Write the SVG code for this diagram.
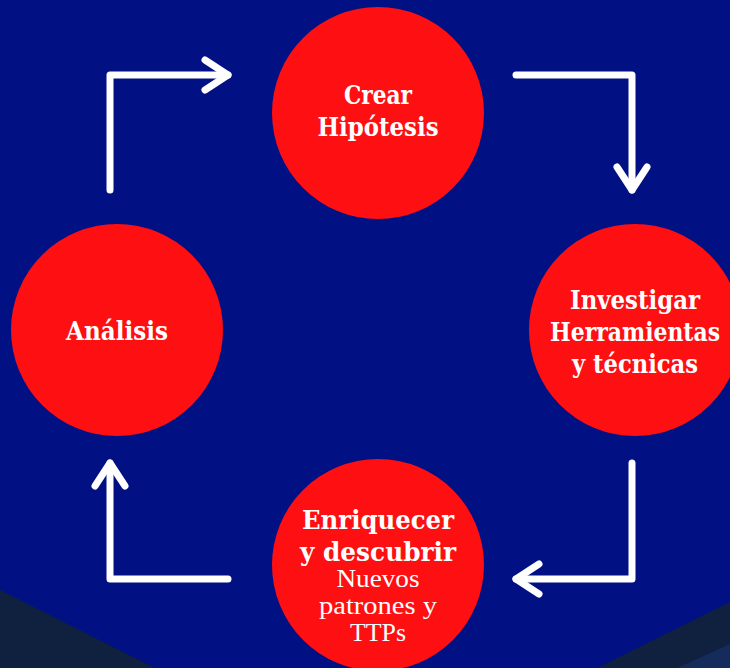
<svg xmlns="http://www.w3.org/2000/svg" width="730" height="668" viewBox="0 0 730 668">
<style>
.c{fill:#fe0f12}
.h{font-family:"DejaVu Serif","Liberation Serif",serif;font-weight:bold;font-size:26px;fill:#fff;text-anchor:middle}
.s{font-family:"Liberation Serif","DejaVu Serif",serif;font-weight:normal;font-size:25px;fill:#fff;text-anchor:middle}
.a{fill:none;stroke:#fff;stroke-width:7;stroke-linecap:round;stroke-linejoin:round}
</style>
<rect width="730" height="668" fill="#011083"/>
<polygon points="0,590 155,668 0,668" fill="#10203f"/>
<polygon points="597,668 730,602 730,668" fill="#10203f"/>
<polygon points="677,668 730,644 730,668" fill="#142b5c"/>
<g id="connectors">
<polyline class="a" points="110,190 110,75 228,75"/>
<polyline class="a" points="205,60 228,75 205,90"/>
<polyline class="a" points="516,75 632,75 632,190"/>
<polyline class="a" points="617,167 632,190 647,167"/>
<polyline class="a" points="632,463 632,579 516,579"/>
<polyline class="a" points="539,564 516,579 539,594"/>
<polyline class="a" points="228,579 110,579 110,463"/>
<polyline class="a" points="95,486 110,463 125,486"/>
</g>
<g id="crear">
<circle class="c" cx="378" cy="113" r="106"/>
<text class="h" x="378" y="104" textLength="68" lengthAdjust="spacingAndGlyphs">Crear</text>
<text class="h" x="378" y="136" textLength="121" lengthAdjust="spacingAndGlyphs">Hipótesis</text>
</g>
<g id="investigar">
<circle class="c" cx="635" cy="330" r="106"/>
<text class="h" x="635" y="309" textLength="130" lengthAdjust="spacingAndGlyphs">Investigar</text>
<text class="h" x="635" y="341" textLength="170" lengthAdjust="spacingAndGlyphs">Herramientas</text>
<text class="h" x="635" y="373" textLength="126" lengthAdjust="spacingAndGlyphs">y técnicas</text>
</g>
<g id="analisis">
<circle class="c" cx="117" cy="330" r="106"/>
<text class="h" x="117" y="340" textLength="102" lengthAdjust="spacingAndGlyphs">Análisis</text>
</g>
<g id="enriquecer">
<circle class="c" cx="378" cy="565" r="106"/>
<text class="h" x="378" y="529" textLength="152" lengthAdjust="spacingAndGlyphs">Enriquecer</text>
<text class="h" x="378" y="561" textLength="156" lengthAdjust="spacingAndGlyphs">y descubrir</text>
<text class="s" x="378" y="587" textLength="83" lengthAdjust="spacingAndGlyphs">Nuevos</text>
<text class="s" x="378" y="614" textLength="118" lengthAdjust="spacingAndGlyphs">patrones y</text>
<text class="s" x="378" y="641" textLength="56" lengthAdjust="spacingAndGlyphs">TTPs</text>
</g>
</svg>
